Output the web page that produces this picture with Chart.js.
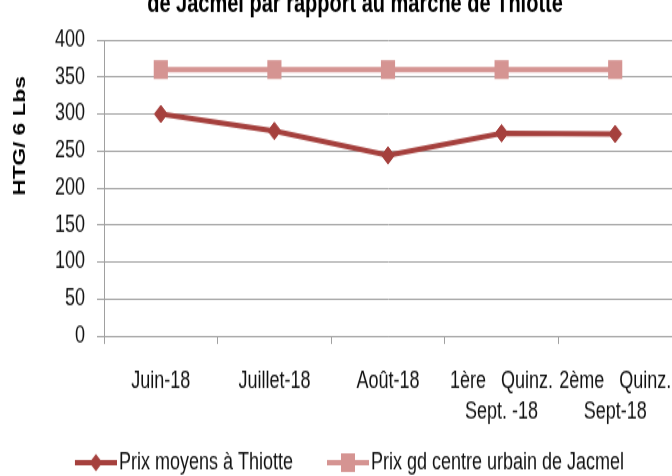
<!DOCTYPE html>
<html lang="fr">
<head>
<meta charset="UTF-8">
<title>Prix Thiotte / Jacmel</title>
<script src="https://cdn.jsdelivr.net/npm/chart.js"></script>
<style>
    body, html {
        margin: 0;
        padding: 0;
        background: #fff;
        overflow: hidden;
    }
</style>
</head>
<body>
<!-- the original picture is stretched vertically, so is this canvas -->
<canvas id="chart" width="672" height="357" style="display:block;width:672px;height:476px"></canvas>

<script>
    // data
    const periods = ['Juin-18', 'Juillet-18', 'Août-18', ['1ère   Quinz.', 'Sept. -18'], ['2ème   Quinz.', 'Sept-18']];
    const thiotte = [300, 277, 244, 274, 273];
    const jacmel = [360, 360, 360, 360, 360];
    const seriesNames = ['Prix moyens à Thiotte', 'Prix gd centre urbain de Jacmel'];
    const yTicks = [0, 50, 100, 150, 200, 250, 300, 350, 400];

    const chartTitle = 'de Jacmel par rapport au marché de Thiotte';
    const yTitle = 'HTG/ 6 Lbs';

    const dark = '#a5403d';
    const pink = '#d59492';
    const gridGray = '#a0a0a0';
    const font = "'Liberation Sans', Arial, sans-serif";

    // legend sample: a short piece of line with its marker
    function legendSample(color, style) {
        const c = document.createElement('canvas');
        c.width = 76;
        c.height = 20;
        const g = c.getContext('2d');
        g.fillStyle = color;
        g.strokeStyle = color;
        g.lineWidth = 4;
        g.beginPath();
        g.moveTo(34, 10);
        g.lineTo(76, 10);
        g.stroke();
        const cx = 55;
        if (style === 'rect') {
            g.fillRect(cx - 7, 3, 14, 14);
        } else {
            g.beginPath();
            g.moveTo(cx - 6.5, 10);
            g.lineTo(cx, 3.5);
            g.lineTo(cx + 6.5, 10);
            g.lineTo(cx, 16.5);
            g.closePath();
            g.fill();
        }
        return c;
    }
    const samples = [legendSample(dark, 'rectRot'), legendSample(pink, 'rect')];

    // titles sit at fixed spots in the original, drawn here by hand
    const titlesPlugin = {
        id: 'titles',
        afterDraw(chart) {
            const ctx = chart.ctx;
            ctx.save();
            ctx.fillStyle = '#000';
            ctx.textAlign = 'center';
            ctx.textBaseline = 'alphabetic';
            ctx.font = "bold 20px " + font;
            ctx.fillText(chartTitle, 355, 8.5);

            ctx.translate(20, 102);
            ctx.rotate(-Math.PI / 2);
            ctx.textBaseline = 'middle';
            ctx.font = "bold 17px " + font;
            ctx.fillText(yTitle, 0, 0);
            ctx.restore();
        }
    };

    new Chart(document.getElementById('chart'), {
        type: 'line',
        data: {
            labels: periods,
            datasets: [{
                label: seriesNames[0],
                data: thiotte,
                borderColor: dark,
                backgroundColor: dark,
                borderWidth: 4,
                pointStyle: 'rectRot',
                pointRadius: 6.5,
                pointBorderWidth: 1,
                tension: 0,
                fill: false
            }, {
                label: seriesNames[1],
                data: jacmel,
                borderColor: pink,
                backgroundColor: pink,
                borderWidth: 4,
                pointStyle: 'rect',
                pointRadius: 10,
                pointBorderWidth: 0,
                tension: 0,
                fill: false
            }]
        },
        options: {
            responsive: false,
            devicePixelRatio: 1,
            animation: false,
            layout: {
                autoPadding: false,
                padding: { top: 30, right: 0, bottom: -9, left: 0 }
            },
            scales: {
                x: {
                    offset: true,
                    grid: {
                        offset: true,
                        drawOnChartArea: false,
                        tickLength: 6,
                        color: gridGray
                    },
                    border: { color: gridGray },
                    ticks: {
                        autoSkip: false,
                        maxRotation: 0,
                        padding: 16,
                        color: '#111',
                        font: { family: font, size: 18, lineHeight: 1.3 }
                    },
                    afterFit(scale) {
                        scale.height = 79;
                        // the plot runs right up to the canvas edge
                        scale.paddingLeft = 0;
                        scale.paddingRight = 0;
                    }
                },
                y: {
                    min: 0,
                    max: 400,
                    afterBuildTicks(scale) {
                        scale.ticks = yTicks.map(v => ({ value: v }));
                    },
                    grid: {
                        tickLength: 7,
                        color: gridGray
                    },
                    border: { color: gridGray },
                    ticks: {
                        padding: 12,
                        color: '#111',
                        font: { family: font, size: 18 }
                    },
                    afterFit(scale) {
                        scale.width = 104;
                    }
                }
            },
            plugins: {
                title: { display: false },
                tooltip: { enabled: false },
                legend: {
                    position: 'bottom',
                    labels: {
                        usePointStyle: true,
                        pointStyleWidth: 62,
                        padding: 7,
                        color: '#111',
                        font: { family: font, size: 18 },
                        generateLabels(chart) {
                            return chart.data.datasets.map((ds, i) => ({
                                text: ds.label,
                                pointStyle: samples[i],
                                fillStyle: ds.borderColor,
                                strokeStyle: ds.borderColor,
                                lineWidth: 0,
                                hidden: false,
                                datasetIndex: i,
                                fontColor: '#111'
                            }));
                        }
                    }
                }
            }
        },
        plugins: [titlesPlugin]
    });
</script>
</body>
</html>
